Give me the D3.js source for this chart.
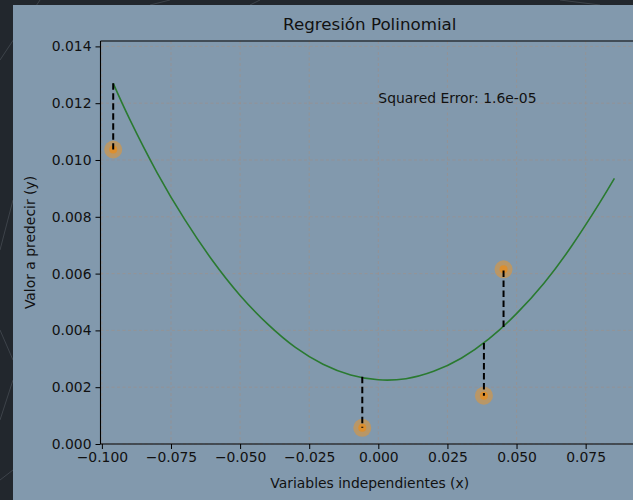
<!DOCTYPE html>
<html><head><meta charset="utf-8">
<script src="https://cdn.jsdelivr.net/npm/d3@7"></script>
<style>body{margin:0;background:#22272d;overflow:hidden}svg{display:block}</style>
</head><body>
<script>
// ---- data ----
const pointX = [-0.0959, -0.0058, 0.0382, 0.0453];
const pointY = [0.01037, 0.00057, 0.0017, 0.00615];
const predY  = [0.0127, 0.00237, 0.00356, 0.00412];
const curveX = [-0.0959, -0.09, -0.08, -0.07, -0.06, -0.05, -0.04, -0.03, -0.02, -0.01, 0.0, 0.01, 0.02, 0.03, 0.04, 0.05, 0.06, 0.07, 0.08, 0.0854];
const curveY = [0.0127, 0.01145, 0.00955, 0.0079, 0.00646, 0.00523, 0.00422, 0.0034, 0.00281, 0.00243, 0.00226, 0.0023, 0.00256, 0.00302, 0.0037, 0.00459, 0.00567, 0.00698, 0.00848, 0.00935];
const xTicks = [-0.100, -0.075, -0.050, -0.025, 0.000, 0.025, 0.050, 0.075];
const yTicks = [0.000, 0.002, 0.004, 0.006, 0.008, 0.010, 0.012, 0.014];
const title = "Regresión Polinomial";
const xLabel = "Variables independientes (x)";
const yLabel = "Valor a predecir (y)";
const annotation = "Squared Error: 1.6e-05";

const W = 633, H = 500;
const svg = d3.select("body").append("svg").attr("width", W).attr("height", H);
const FONT = "DejaVu Sans, sans-serif";

// dark decorative backdrop
svg.append("rect").attr("width", W).attr("height", H).attr("fill", "#22272d");
const deco = [[[0,60],[40,0]],[[0,250],[13,200]],[[0,330],[13,360]],[[0,420],[13,380]],[[170,0],[150,5]],[[260,0],[250,5]],[[560,0],[600,5]],[[0,480],[13,470]]];
svg.append("g").selectAll("line").data(deco).join("line")
  .attr("x1", d => d[0][0]).attr("y1", d => d[0][1]).attr("x2", d => d[1][0]).attr("y2", d => d[1][1])
  .attr("stroke", "#5a6068").attr("stroke-opacity", 0.5).attr("stroke-width", 1);

// figure panel
svg.append("rect").attr("x", 13).attr("y", 5).attr("width", W).attr("height", H).attr("fill", "#8299ad");

const L = 100.5, R = 639, T = 41, B = 444;
const x = d3.scaleLinear().domain([-0.1005, 0.0943]).range([L, R]);
const y = d3.scaleLinear().domain([0, 0.01419]).range([B, T]);

// grid
const grid = svg.append("g").attr("stroke", "#a08f86").attr("stroke-opacity", 0.75)
  .attr("stroke-width", 0.8).attr("stroke-dasharray", "3,2.5");
grid.selectAll(".gx").data(xTicks).join("line")
  .attr("x1", d => x(d)).attr("x2", d => x(d)).attr("y1", T).attr("y2", B);
grid.selectAll(".gy").data(yTicks).join("line")
  .attr("x1", L).attr("x2", R).attr("y1", d => y(d)).attr("y2", d => y(d));

// fitted curve
const line = d3.line().x(d => x(d[0])).y(d => y(d[1])).curve(d3.curveNatural);
svg.append("path").datum(curveX.map((v, i) => [v, curveY[i]]))
  .attr("d", line).attr("fill", "none").attr("stroke", "#2a7a30").attr("stroke-width", 1.6);

// points
const pts = pointX.map((v, i) => ({x: v, y: pointY[i], p: predY[i]}));
svg.append("g").selectAll("circle").data(pts).join("circle")
  .attr("cx", d => x(d.x)).attr("cy", d => y(d.y)).attr("r", 9)
  .attr("fill", "#e8962e").attr("fill-opacity", 0.55);
svg.append("g").selectAll("circle").data(pts).join("circle")
  .attr("cx", d => x(d.x)).attr("cy", d => y(d.y)).attr("r", 4)
  .attr("fill", "#f08a10").attr("fill-opacity", 0.65);

// residual lines
svg.append("g").selectAll("line").data(pts).join("line")
  .attr("x1", d => x(d.x)).attr("x2", d => x(d.x))
  .attr("y1", d => y(d.p)).attr("y2", d => y(d.y))
  .attr("stroke", "#000").attr("stroke-width", 2).attr("stroke-dasharray", "6.5,3.5");

// axes
const fmt = d3.format(".3f");
const gx = svg.append("g").attr("transform", `translate(0,${B})`)
  .call(d3.axisBottom(x).tickValues(xTicks).tickFormat(fmt).tickSize(5).tickPadding(3));
const gy = svg.append("g").attr("transform", `translate(${L},0)`)
  .call(d3.axisLeft(y).tickValues(yTicks).tickFormat(fmt).tickSize(5).tickPadding(4));
[gx, gy].forEach(g => {
  g.select(".domain").remove();
  g.selectAll("line").attr("stroke", "#000").attr("stroke-width", 1);
  g.selectAll("text").attr("fill", "#111").attr("font-family", FONT).attr("font-size", 13.9);
});
// spines
const sp = svg.append("g").attr("stroke", "#000").attr("stroke-width", 1.1).attr("fill", "none");
sp.append("line").attr("x1", L).attr("x2", L).attr("y1", T).attr("y2", B);
sp.append("line").attr("x1", L).attr("x2", R).attr("y1", B).attr("y2", B);
sp.append("line").attr("x1", L).attr("x2", R).attr("y1", T).attr("y2", T);
sp.append("line").attr("x1", R).attr("x2", R).attr("y1", T).attr("y2", B);

// texts
svg.append("text").attr("x", (L + R) / 2).attr("y", 30).attr("text-anchor", "middle")
  .attr("font-family", FONT).attr("font-size", 16.7).attr("fill", "#111").text(title);
svg.append("text").attr("x", (L + R) / 2).attr("y", 488).attr("text-anchor", "middle")
  .attr("font-family", FONT).attr("font-size", 13.9).attr("fill", "#111").text(xLabel);
svg.append("text").attr("transform", `translate(35,${(T + B) / 2}) rotate(-90)`).attr("text-anchor", "middle")
  .attr("font-family", FONT).attr("font-size", 13.9).attr("fill", "#111").text(yLabel);
svg.append("text").attr("x", x(0)).attr("y", y(0.012)).attr("text-anchor", "start")
  .attr("font-family", FONT).attr("font-size", 13.9).attr("fill", "#111").text(annotation);
</script>
</body></html>
